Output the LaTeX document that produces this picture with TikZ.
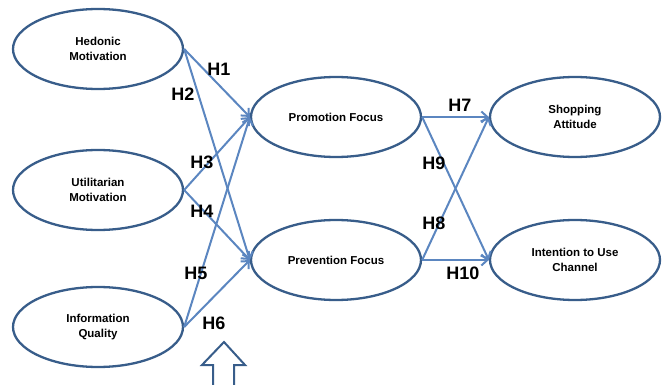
\documentclass[tikz,border=0pt]{standalone}
\usepackage{fontspec}
\setmainfont{Liberation Sans}
\usetikzlibrary{shapes.geometric, arrows.meta}
\definecolor{ellblue}{RGB}{56,93,138}
\definecolor{lineblue}{RGB}{91,134,192}
\begin{document}
\begin{tikzpicture}[x=1pt, y=-1pt,
	var/.style={draw=ellblue, line width=2.3pt, ellipse, minimum width=170pt, minimum height=80pt, inner sep=0pt, align=center, font=\bfseries\fontsize{11.5}{15}\selectfont},
	hyp/.style={draw=lineblue, line width=2pt, -{Straight Barb[length=6pt, width=11pt]}},
	hlab/.style={font=\bfseries\fontsize{18}{18}\selectfont, inner sep=0pt}]
	\useasboundingbox (0,0) rectangle (662,385);
	% constructs
	\node[var] (hed) at (98,49) {Hedonic\\Motivation};
	\node[var] (uti) at (98,190) {Utilitarian\\Motivation};
	\node[var] (inf) at (98,327) {Information\\Quality};
	\node[var] (pro) at (336,117) {Promotion Focus};
	\node[var] (pre) at (336,260) {Prevention Focus};
	\node[var] (sho) at (575,117) {Shopping\\Attitude};
	\node[var] (int) at (575,260) {Intention to Use\\Channel};
	% hypotheses
	\draw[hyp] (hed.east) -- (pro.west);
	\draw[hyp] (hed.east) -- (pre.west);
	\draw[hyp] (uti.east) -- (pro.west);
	\draw[hyp] (uti.east) -- (pre.west);
	\draw[hyp] (inf.east) -- (pro.west);
	\draw[hyp] (inf.east) -- (pre.west);
	\draw[hyp] (pro.east) -- (sho.west);
	\draw[hyp] (pro.east) -- (int.west);
	\draw[hyp] (pre.east) -- (sho.west);
	\draw[hyp] (pre.east) -- (int.west);
	\node[hlab] (h1) at (219,69) {H1};
	\node[hlab] (h2) at (183,94) {H2};
	\node[hlab] (h3) at (202,162) {H3};
	\node[hlab] (h4) at (202,211) {H4};
	\node[hlab] (h5) at (196,273) {H5};
	\node[hlab] (h6) at (214,323) {H6};
	\node[hlab] (h7) at (460,105) {H7};
	\node[hlab] (h9) at (434,163) {H9};
	\node[hlab] (h8) at (434,223) {H8};
	\node[hlab] (h10) at (463,273) {H10};
	% hollow arrow
	\draw[ellblue, line width=2pt, line join=miter] (213,386) -- (213,365) -- (202,365) -- (224,342) -- (245,365) -- (234,365) -- (234,386);
\end{tikzpicture}
\end{document}
